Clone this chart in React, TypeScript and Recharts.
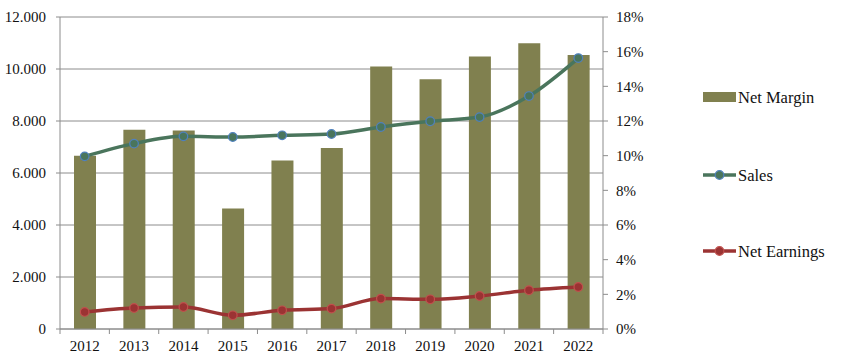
import { Bar, CartesianGrid, ComposedChart, Line, XAxis, YAxis } from "recharts";

const years = ["2012", "2013", "2014", "2015", "2016", "2017", "2018", "2019", "2020", "2021", "2022"];
const netMargin = [10.0, 11.5, 11.45, 6.95, 9.72, 10.44, 15.14, 14.41, 15.72, 16.48, 15.81];
const sales = [6640, 7130, 7410, 7385, 7450, 7500, 7770, 7990, 8150, 8960, 10420];
const netEarnings = [655, 808, 846, 527, 720, 785, 1170, 1142, 1270, 1490, 1615];
const leftTicks = [0, 2000, 4000, 6000, 8000, 10000, 12000];
const rightTicks = [0, 2, 4, 6, 8, 10, 12, 14, 16, 18];

const data = years.map((year, i) => ({
  year,
  netMargin: netMargin[i],
  sales: sales[i],
  netEarnings: netEarnings[i],
}));

const W = 850;
const H = 360;
const TOP = 17;
const X_AXIS_H = 31;
const LEFT_W = 60;
const RIGHT_W = 50;
const RIGHT_MARGIN = 197;
const AXIS_Y = H - X_AXIS_H;
const BAND = (W - LEFT_W - RIGHT_W - RIGHT_MARGIN) / years.length;

const FONT = "Liberation Serif, DejaVu Serif, serif";
const GRID = "#8c8c8c";
const OLIVE = "#80804f";
const GREEN = "#4a755c";
const RED = "#9b3333";

const fmtThousands = (v: number) => String(v).replace(/\B(?=(\d{3})+(?!\d))/g, ".");

const XTick = (props: any) => {
  const { x, payload, index } = props;
  const half = BAND / 2;
  return (
    <g>
      <line x1={x - half} x2={x - half} y1={AXIS_Y} y2={AXIS_Y + 5} stroke={GRID} />
      {index === years.length - 1 && (
        <line x1={x + half} x2={x + half} y1={AXIS_Y} y2={AXIS_Y + 5} stroke={GRID} />
      )}
      <text x={x} y={AXIS_Y + 11} dy="0.71em" textAnchor="middle" fill="#111" fontSize={15} fontFamily={FONT}>
        {payload.value}
      </text>
    </g>
  );
};

const legendItems = [
  { name: "Net Margin", kind: "bar", color: OLIVE, stroke: OLIVE, top: 87 },
  { name: "Sales", kind: "line", color: GREEN, stroke: "#4f81bd", top: 165 },
  { name: "Net Earnings", kind: "line", color: RED, stroke: "#c0504d", top: 241 },
];

// legend drawn beside the chart so it takes no room from the plot
const LegendBox = () => (
  <svg width={150} height={H} style={{ position: "absolute", left: 703, top: 0 }}>
    {legendItems.map((it) => (
      <g key={it.name} transform={`translate(0, ${it.top})`}>
        {it.kind === "bar" ? (
          <rect x={0} y={5} width={33} height={10} fill={it.color} />
        ) : (
          <g>
            <line x1={0} x2={33} y1={10} y2={10} stroke={it.color} strokeWidth={3.5} />
            <circle cx={16.5} cy={10} r={4.3} fill={it.color} stroke={it.stroke} strokeWidth={1.2} />
          </g>
        )}
        <text x={35} y={10} dy="0.355em" fontSize={16.5} fill="#111" fontFamily={FONT}>
          {it.name}
        </text>
      </g>
    ))}
  </svg>
);

export default function App() {
  return (
    <div style={{ position: "absolute", left: 0, top: 0, width: W, height: H, background: "#fff" }}>
      <ComposedChart
        width={W}
        height={H}
        data={data}
        margin={{ top: TOP, right: RIGHT_MARGIN, bottom: 0, left: 0 }}
      >
        <CartesianGrid yAxisId="left" vertical={false} stroke={GRID} strokeWidth={1} />
        <XAxis
          dataKey="year"
          height={X_AXIS_H}
          axisLine={{ stroke: GRID }}
          tickLine={false}
          tick={<XTick />}
          interval={0}
        />
        <YAxis
          yAxisId="left"
          width={LEFT_W}
          domain={[0, 12000]}
          ticks={leftTicks}
          tickFormatter={fmtThousands}
          axisLine={{ stroke: GRID }}
          tickLine={{ stroke: GRID }}
          tickSize={4}
          tickMargin={10}
          tick={{ fill: "#111", fontSize: 15, fontFamily: FONT }}
        />
        <YAxis
          yAxisId="right"
          orientation="right"
          width={RIGHT_W}
          domain={[0, 18]}
          ticks={rightTicks}
          tickFormatter={(v: number) => `${v}%`}
          axisLine={{ stroke: GRID }}
          tickLine={{ stroke: GRID }}
          tickSize={5}
          tickMargin={8}
          tick={{ fill: "#111", fontSize: 15, fontFamily: FONT }}
        />
        <Bar yAxisId="right" dataKey="netMargin" name="Net Margin" fill={OLIVE} barSize={22} isAnimationActive={false} />
        <Line
          yAxisId="left"
          type="monotone"
          dataKey="sales"
          name="Sales"
          stroke={GREEN}
          strokeWidth={3.5}
          dot={{ r: 4.3, fill: GREEN, stroke: "#4f81bd", strokeWidth: 1.2 }}
          isAnimationActive={false}
        />
        <Line
          yAxisId="left"
          type="monotone"
          dataKey="netEarnings"
          name="Net Earnings"
          stroke={RED}
          strokeWidth={3.5}
          dot={{ r: 4.3, fill: RED, stroke: "#c0504d", strokeWidth: 1.2 }}
          isAnimationActive={false}
        />
      </ComposedChart>
      <LegendBox />
    </div>
  );
}
